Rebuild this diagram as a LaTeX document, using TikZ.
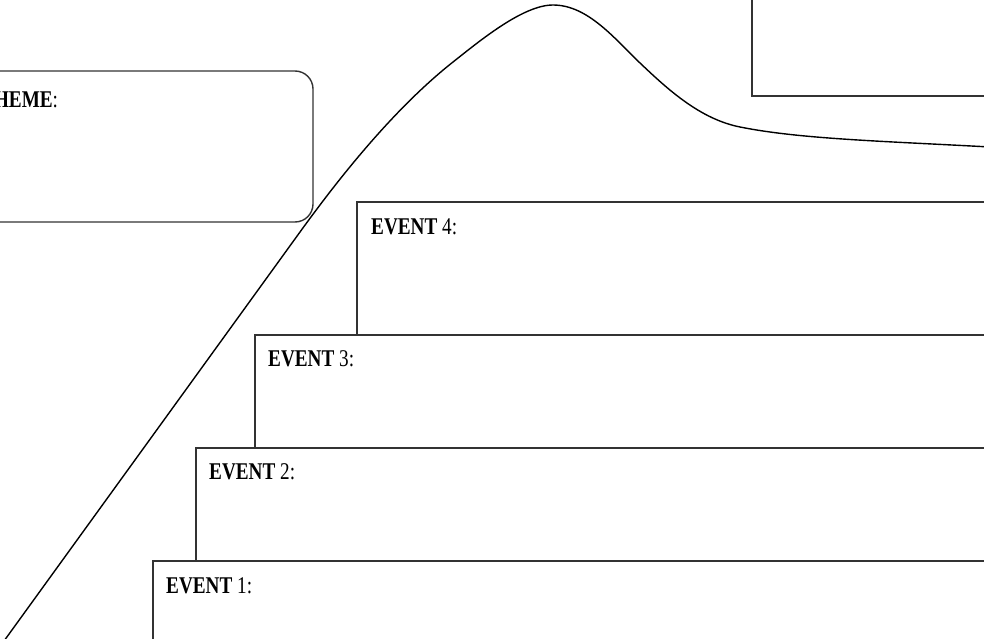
\documentclass[tikz,border=0pt]{standalone}
\usepackage{fontspec}
\newfontfamily\labfont[FakeStretch=0.8]{Liberation Serif}
\begin{document}
\begin{tikzpicture}[x=1pt,y=-1pt,
  boxline/.style={draw=black!80,line width=1.4pt,fill=white},
  lbl/.style={anchor=base west,inner sep=0pt,font=\labfont\fontsize{24}{28}\selectfont},
  arcline/.style={draw=black,line width=1.4pt,line join=round}]
\useasboundingbox (0,0) rectangle (984,639);
\clip (0,0) rectangle (984,639);
\fill[white] (0,0) rectangle (984,639);
% top-right box
\draw[boxline] (752,-20) rectangle (1000,96);
% theme box
\draw[boxline,rounded corners=18pt] (-40,71) rectangle (313,222);
\node[lbl] (theme) at (-19,108) {\textbf{THEME}:};
% event boxes
\draw[boxline] (357,202) rectangle (1000,335);
\draw[boxline] (255,335) rectangle (1000,448);
\draw[boxline] (196,448) rectangle (1000,561);
\draw[boxline] (153,561) rectangle (1000,660);
\node[lbl] (ev4) at (371,234) {\textbf{EVENT} 4:};
\node[lbl] (ev3) at (268,366) {\textbf{EVENT} 3:};
\node[lbl] (ev2) at (209,479) {\textbf{EVENT} 2:};
\node[lbl] (ev1) at (166,593) {\textbf{EVENT} 1:};
% plot curve
\coordinate (c0) at (4,641);
\coordinate (c1) at (300,232);
\coordinate (c2) at (453,62);
\coordinate (peak) at (553,5);
\coordinate (c3) at (640,63);
\coordinate (c4) at (740,127);
\coordinate (c5) at (990,147);
\draw[arcline] (c0) -- (c1)
  .. controls (345,169.7) and (398,105.5) .. (c2)
  .. controls (480,40.7) and (523,5) .. (peak)
  .. controls (588,5) and (615,39.2) .. (c3)
  .. controls (668,89.6) and (700,119) .. (c4)
  .. controls (800,139) and (880,141) .. (c5);
\end{tikzpicture}
\end{document}
